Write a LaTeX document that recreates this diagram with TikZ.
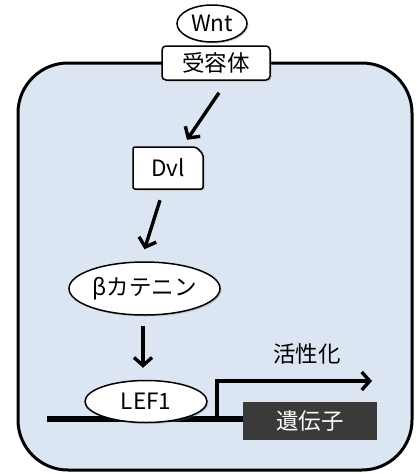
\documentclass[tikz,border=0pt]{standalone}
\usepackage{fontspec}
\setmainfont{Noto Sans CJK JP}
\usetikzlibrary{arrows.meta,shapes.geometric,shadows}
\definecolor{cellblue}{HTML}{DCE6F2}
\definecolor{genegray}{HTML}{3A3A3A}
\begin{document}
\begin{tikzpicture}[x=1pt,y=-1pt,
  font=\fontsize{22.5}{26}\selectfont,
  shade/.style={drop shadow={shadow xshift=1.5pt,shadow yshift=-1.5pt,opacity=0.35,fill=gray}},
  ell/.style={ellipse,draw=black,line width=1.5pt,fill=white,inner sep=0pt,shade},
  recbox/.style={rectangle,rounded corners=4pt,draw=black,line width=1.5pt,fill=white,inner sep=0pt,shade},
  arr/.style={line width=3.4pt,-{Straight Barb[length=8pt,width=18pt]}},
  dna/.style={line width=5.5pt},
]
\useasboundingbox (0,0) rectangle (417,474);
% cell
\draw[line width=3pt,fill=cellblue,rounded corners=50pt] (18,63) rectangle (412,470);
% Wnt and receptor
\node[recbox,minimum width=108pt,minimum height=34pt] (rec) at (216,63) {受容体};
\node[ell,minimum width=70pt,minimum height=37pt] (wnt) at (212,23.5) {Wnt};
% Dvl
\draw[line width=1.5pt,fill=white,rounded corners=2pt,shade]
  (133,147) -- (196,147) -- (203,154) -- (203,189) -- (133,189) -- cycle;
\node[inner sep=0pt,minimum width=70pt,minimum height=42pt] (dvl) at (168,168) {Dvl};
% beta-catenin
\node[ell,minimum width=151pt,minimum height=53pt] (bcat) at (144.5,288.5) {βカテニン};
% DNA and gene
\node[rectangle,fill=genegray,text=white,inner sep=0pt,minimum width=134pt,minimum height=38pt] (gene) at (310,421) {遺伝子};
\coordinate (dnastart) at (47,419);
\draw[dna] (dnastart) -- (dnastart -| gene.west);
\node[ell,minimum width=122pt,minimum height=42pt] (lef) at (146,401.5) {LEF1};
\coordinate (prom) at (217,419);
\coordinate (tssend) at (372,381);
\draw[line width=3.4pt,-{Straight Barb[length=8pt,width=18pt]}] (prom) |- (tssend);
\node[inner sep=0pt] (act) at (307,354) {活性化};
% arrows
\draw[arr] ([xshift=3pt,yshift=-12pt]rec.south) -- ([xshift=19pt,yshift=7pt]dvl.north);
\draw[arr] ([xshift=-8pt,yshift=-11pt]dvl.south) -- ([xshift=0pt,yshift=12pt]bcat.north);
\draw[arr] ([xshift=-1.5pt,yshift=-10pt]bcat.south) -- ([xshift=-3pt,yshift=12pt]lef.north);
\end{tikzpicture}
\end{document}
